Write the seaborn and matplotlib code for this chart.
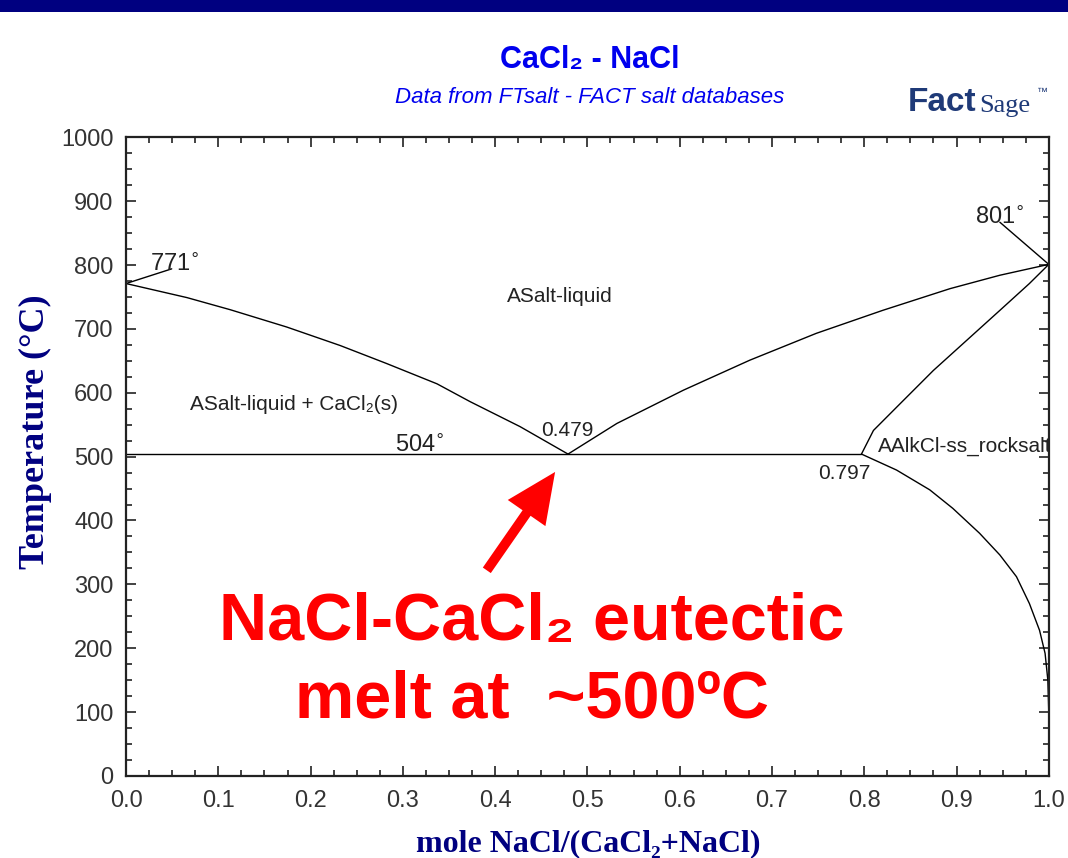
"""
CaCl2 - NaCl phase diagram (FactSage style) with eutectic callout.
"""

import numpy as np
import pandas as pd
import matplotlib
matplotlib.use("Agg")
import matplotlib.pyplot as plt
from matplotlib.ticker import MultipleLocator
import seaborn as sns

# ─────────────────────────────────────────────
#  Data
# ─────────────────────────────────────────────

left_liq_x = [0.0, 0.066, 0.113, 0.174, 0.232, 0.282, 0.337, 0.373, 0.427, 0.479]
left_liq_T = [771, 749, 730, 703, 674, 646, 614, 586, 547, 504]

right_liq_x = [0.479, 0.532, 0.604, 0.676, 0.748, 0.820, 0.893, 0.947, 1.0]
right_liq_T = [504, 552, 604, 651, 693, 729, 763, 784, 801]

solidus_x = [0.797, 0.810, 0.839, 0.875, 0.911, 0.947, 0.979, 1.0]
solidus_T = [504, 541, 583, 635, 682, 729, 771, 801]

solvus_x = [0.797, 0.835, 0.871, 0.896, 0.925, 0.947, 0.965, 0.979, 0.990, 0.996, 0.999, 1.0]
solvus_T = [504, 479, 448, 419, 380, 346, 312, 270, 228, 192, 150, 100]

eutectic_x = [0.0, 0.797]
eutectic_T = [504, 504]

lead771_x = [0.0, 0.0495]
lead771_T = [771, 794]
lead801_x = [1.0, 0.947]
lead801_T = [801, 867]

x_ticks = [0.0, 0.1, 0.2, 0.3, 0.4, 0.5, 0.6, 0.7, 0.8, 0.9, 1.0]
y_ticks = [0, 100, 200, 300, 400, 500, 600, 700, 800, 900, 1000]

curves = {
    "liq_left": (left_liq_x, left_liq_T),
    "liq_right": (right_liq_x, right_liq_T),
    "solidus": (solidus_x, solidus_T),
    "solvus": (solvus_x, solvus_T),
    "eutectic": (eutectic_x, eutectic_T),
    "lead771": (lead771_x, lead771_T),
    "lead801": (lead801_x, lead801_T),
}

rows = []
for name, (xs, ts) in curves.items():
    for i, (xv, tv) in enumerate(zip(xs, ts)):
        rows.append({"curve": name, "order": i, "x": xv, "T": tv})
df = pd.DataFrame(rows)

# ─────────────────────────────────────────────
#  Plot
# ─────────────────────────────────────────────

sns.set_theme(style="ticks")
plt.rcParams["font.family"] = ["Liberation Sans", "DejaVu Sans"]

NAVY = "#000080"
BLUE = "#0000EE"
LOGO = "#1F3A78"
TICK_GRAY = "#333333"

fig = plt.figure(figsize=(10.68, 8.58), dpi=100)
fig.patch.set_facecolor("white")

# top navy band
fig.add_artist(plt.Rectangle((0, 0.986), 1, 0.014, transform=fig.transFigure,
                             color=NAVY, lw=0))

ax = fig.add_axes([0.118, 0.0956, 0.864, 0.7444])

sns.lineplot(data=df, x="x", y="T", units="curve", estimator=None, sort=False,
             color="black", lw=1.0, ax=ax, legend=False)

ax.set_xlim(0, 1)
ax.set_ylim(0, 1000)
ax.set_xticks(x_ticks)
ax.set_yticks(y_ticks)
ax.set_xticklabels([f"{v:.1f}" for v in x_ticks])
ax.set_yticklabels([str(v) for v in y_ticks])
ax.xaxis.set_minor_locator(MultipleLocator(0.025))
ax.yaxis.set_minor_locator(MultipleLocator(25))
ax.tick_params(which="both", direction="in", top=True, right=True,
               color="#222222", width=1.2)
ax.tick_params(which="major", length=7)
ax.tick_params(which="minor", length=4)
ax.tick_params(axis="x", which="major", pad=10, labelsize=17, labelcolor=TICK_GRAY)
ax.tick_params(axis="y", which="major", pad=9, labelsize=17, labelcolor=TICK_GRAY)
for sp in ax.spines.values():
    sp.set_linewidth(1.6)
    sp.set_color("#222222")

ax.set_xlabel("")
ax.set_ylabel("")

serif = ["Liberation Serif", "DejaVu Serif"]
fig.text(0.033, 0.497, "Temperature (°C)", rotation=90, ha="center", va="center",
         fontsize=26, fontweight="bold", color=NAVY, family=serif)
fig.text(0.551, 0.017, "mole NaCl/(CaCl\u2082+NaCl)", ha="center", va="center",
         fontsize=23, fontweight="bold", color=NAVY, family=serif)

# titles
fig.text(0.552, 0.930, "CaCl\u2082 - NaCl", ha="center", va="center",
         fontsize=22, fontweight="bold", color=BLUE)
fig.text(0.552, 0.886, "Data from FTsalt - FACT salt databases", ha="center",
         va="center", fontsize=16, style="italic", color=BLUE)

# FactSage logo as text
fig.text(0.850, 0.880, "Fact", ha="left", va="center", fontsize=24,
         fontweight="bold", color=LOGO)
fig.text(0.917, 0.876, "Sage", ha="left", va="center", fontsize=19,
         color=LOGO, family=serif)
fig.text(0.971, 0.893, "™", ha="left", va="center", fontsize=8, color=LOGO)

# diagram labels
lbl = dict(color="#222222", fontsize=15)
ax.text(0.470, 751, "ASalt-liquid", ha="center", va="center", **lbl)
ax.text(0.069, 581, "ASalt-liquid + CaCl\u2082(s)", ha="left", va="center", **lbl)
ax.text(0.815, 516, "AAlkCl-ss_rocksalt", ha="left", va="center", clip_on=True, **lbl)
ax.text(0.478, 541, "0.479", ha="center", va="center", **lbl)
ax.text(0.778, 473, "0.797", ha="center", va="center", **lbl)
ax.text(0.318, 507, "504$^{\\circ}$", ha="center", va="baseline", fontsize=17, color="#222222")
ax.text(0.026, 790, "771$^{\\circ}$", ha="left", va="baseline", fontsize=17, color="#222222")
ax.text(0.920, 864, "801$^{\\circ}$", ha="left", va="baseline", fontsize=17, color="#222222")

# eutectic callout
ax.annotate("", xy=(0.465, 476), xytext=(0.391, 322),
            arrowprops=dict(facecolor="#FF0000", edgecolor="none", width=7,
                            headwidth=33, headlength=36, shrink=0))
ax.text(0.440, 213, "NaCl-CaCl\u2082 eutectic", ha="center", va="baseline",
        fontsize=48, fontweight="bold", color="#FF0000")
ax.text(0.440, 92, "melt at  ~500ºC", ha="center", va="baseline",
        fontsize=48, fontweight="bold", color="#FF0000")

fig.savefig("out.png", dpi=100)
plt.close(fig)
